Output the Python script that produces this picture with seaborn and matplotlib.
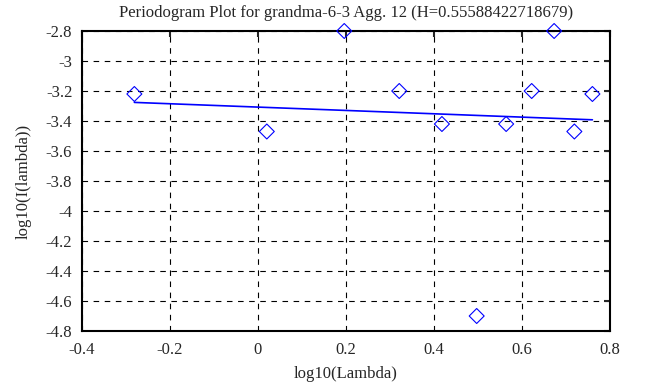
import numpy as np
import pandas as pd
import matplotlib
matplotlib.use('Agg')
import matplotlib.pyplot as plt
import seaborn as sns
from matplotlib.ticker import FuncFormatter

# puntos del periodograma
log_lambda = [-0.281, 0.020, 0.196, 0.321, 0.418, 0.497, 0.564, 0.622, 0.673, 0.719, 0.760]
log_I = [-3.22, -3.47, -2.80, -3.20, -3.42, -4.70, -3.42, -3.20, -2.80, -3.47, -3.22]

# recta de ajuste
fit_x = [-0.281, 0.760]
fit_y = [-3.276, -3.392]

xticks = [-0.4, -0.2, 0, 0.2, 0.4, 0.6, 0.8]
yticks = [-2.8, -3, -3.2, -3.4, -3.6, -3.8, -4, -4.2, -4.4, -4.6, -4.8]

sns.set_style('white')
plt.rcParams['font.family'] = ['Liberation Serif', 'DejaVu Serif']

df = pd.DataFrame({'x': log_lambda, 'y': log_I})
fit = pd.DataFrame({'x': fit_x, 'y': fit_y})

fig = plt.figure(figsize=(6.58, 3.87), dpi=100)
ax = fig.add_axes([82 / 658, 1 - 331 / 387, 528 / 658, 300 / 387])

sns.lineplot(data=fit, x='x', y='y', ax=ax, color='#0000ff', linewidth=1.2, zorder=3)
sns.scatterplot(data=df, x='x', y='y', ax=ax, marker='D', s=58,
                facecolor='none', edgecolor='#0000ff', linewidth=0.8, zorder=4, clip_on=False)

ax.set_xlim(-0.4, 0.8)
ax.set_ylim(-4.8, -2.8)
ax.set_xticks(xticks)
ax.set_yticks(yticks)
fmt = FuncFormatter(lambda v, p: '%g' % round(v, 2))
ax.xaxis.set_major_formatter(fmt)
ax.yaxis.set_major_formatter(fmt)
ax.grid(True, color='black', linestyle=(0, (5, 5)), linewidth=0.8)
ax.tick_params(direction='in', top=True, right=True, length=4, width=1.5, labelsize=12)
ax.tick_params(axis='x', pad=8)
ax.tick_params(axis='y', pad=7)
for s in ax.spines.values():
    s.set_linewidth(1.5)
    s.set_color('black')

ax.set_xlabel('log10(Lambda)', fontsize=12, labelpad=6)
ax.set_ylabel('log10(I(lambda))', fontsize=12, labelpad=10)
ax.set_title('Periodogram Plot for grandma-6-3 Agg. 12 (H=0.55588422718679)', fontsize=12, pad=10)

fig.savefig('out.png', dpi=100)
